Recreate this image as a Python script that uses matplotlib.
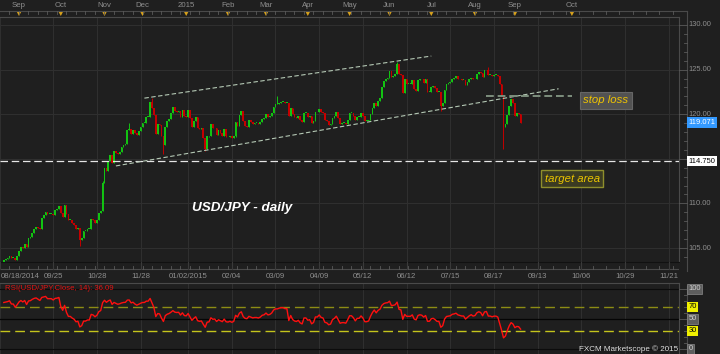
import matplotlib
matplotlib.use("Agg")
import matplotlib.pyplot as plt
import numpy as np
import pandas as pd
from matplotlib.patches import Polygon

plt.rcParams['font.family'] = ['Liberation Sans', 'DejaVu Sans']

W, H = 720, 354
BG = "#1f1f1f"
GRID = "#2f2f2f"
FRAME = "#4a4a4a"
TXT = "#8e8e8e"
UPC = "#12c412"
DNC = "#c40000"

# ---------------- data ----------------
first_day = "2014-08-20"
last_day = "2015-09-04"

# closes before the visible range (only used to seed the RSI)
warmup_closes = [101.4, 101.5, 101.5, 101.8, 101.8, 101.9, 102.1, 102.8, 102.8, 102.6,
                 102.6, 102.6, 102.1, 102.1, 102.0, 102.4, 102.3, 102.6, 102.4, 102.3,
                 102.6, 103.2]

closes = [
    103.7, 103.8, 103.9,                      # Aug 20-22 2014
    104.1, 103.9, 103.9, 103.7, 104.1,        # Aug 25-29
    104.7, 105.1, 105.0, 105.4, 105.1,        # Sep 1-5
    106.1, 106.2, 106.7, 107.1, 107.3,        # Sep 8-12
    107.2, 107.1, 108.4, 108.7, 109.0,        # Sep 15-19
    108.8, 108.8, 108.8, 108.7, 109.3,        # Sep 22-26
    109.4, 109.7, 108.9, 108.5, 109.8,        # Sep 29-Oct 3
    108.8, 108.1, 108.1, 107.8, 107.6,        # Oct 6-10
    107.1, 107.2, 105.9, 106.1, 106.9,        # Oct 13-17
    106.9, 107.1, 107.1, 108.2, 108.1,        # Oct 20-24
    107.8, 108.1, 108.9, 109.2, 112.3,        # Oct 27-31
    114.0, 113.6, 114.7, 115.4, 114.5,        # Nov 3-7
    115.9, 115.7, 115.5, 115.8, 116.3,        # Nov 10-14
    116.6, 116.7, 118.2, 118.3, 117.8,        # Nov 17-21
    118.2, 117.9, 117.7, 118.1, 118.6,        # Nov 24-28
    119.0, 119.0, 119.7, 119.7, 121.4,        # Dec 1-5
    120.7, 119.9, 117.8, 118.9, 118.8,        # Dec 8-12
    117.6, 116.5, 118.6, 119.2, 119.5,        # Dec 15-19
    120.1, 120.8, 120.4, 120.3, 120.4,        # Dec 22-26
    119.7, 120.5, 119.8, 119.7, 120.5,        # Dec 29-Jan 2
    119.6, 118.6, 119.2, 119.7, 118.5,        # Jan 5-9 2015
    118.3, 118.4, 117.3, 116.1, 117.5,        # Jan 12-16
    117.6, 118.9, 118.4, 118.5, 117.7,        # Jan 19-23
    118.2, 117.9, 117.6, 118.3, 117.5,        # Jan 26-30
    117.4, 117.6, 117.3, 117.5, 119.1,        # Feb 2-6
    118.7, 119.9, 120.4, 119.2, 118.7,        # Feb 9-13
    118.6, 119.3, 119.1, 118.9, 119.0,        # Feb 16-20
    119.0, 118.9, 119.1, 119.5, 119.6,        # Feb 23-27
    120.0, 119.7, 119.8, 120.1, 120.8,        # Mar 2-6
    121.1, 121.1, 121.3, 121.4, 121.4,        # Mar 9-13
    121.3, 121.3, 119.8, 120.7, 120.0,        # Mar 16-20
    119.7, 119.6, 119.8, 119.3, 119.1,        # Mar 23-27
    120.1, 120.1, 119.7, 119.8, 119.0,        # Mar 30-Apr 3
    119.2, 120.2, 120.2, 120.6, 120.2,        # Apr 6-10
    120.1, 119.3, 119.2, 118.8, 118.9,        # Apr 13-17
    119.6, 119.8, 120.2, 119.6, 118.9,        # Apr 20-24
    119.0, 119.0, 118.9, 119.4, 120.1,        # Apr 27-May 1
    120.1, 119.8, 119.3, 119.7, 119.7,        # May 4-8
    120.1, 119.8, 119.2, 119.2, 119.3,        # May 11-15
    120.0, 120.7, 121.3, 120.9, 121.5,        # May 18-22
    121.8, 123.0, 123.7, 124.0, 124.1,        # May 25-29
    124.8, 124.2, 124.3, 124.5, 125.6,        # Jun 1-5
    124.5, 124.4, 122.4, 123.9, 123.4,        # Jun 8-12
    123.4, 123.4, 123.8, 122.8, 122.6,        # Jun 15-19
    123.8, 124.0, 123.9, 123.5, 123.9,        # Jun 22-26
    122.5, 122.5, 123.1, 123.2, 122.9,        # Jun 29-Jul 3
    122.5, 122.5, 120.9, 121.2, 122.7,        # Jul 6-10
    123.4, 123.5, 123.6, 124.0, 124.1,        # Jul 13-17
    124.3, 124.0, 123.9, 123.8, 123.8,        # Jul 20-24
    123.3, 123.6, 123.9, 124.1, 123.9,        # Jul 27-31
    124.0, 124.5, 124.7, 124.6, 124.2,        # Aug 3-7
    124.9, 125.0, 124.4, 124.4, 124.3,        # Aug 10-14
    124.4, 124.4, 124.3, 123.4, 122.0,        # Aug 17-21
    118.6, 118.9, 119.9, 120.9, 121.7,        # Aug 24-28
    121.2, 119.8, 120.1, 120.0, 119.0,        # Aug 31-Sep 4
]

high_wicks = {"2014-10-31": 112.5, "2014-11-20": 118.98, "2014-12-08": 121.85,
              "2015-03-10": 122.03, "2015-06-05": 125.86, "2015-08-12": 125.28}
low_wicks = {"2014-10-15": 105.2, "2014-12-16": 115.57, "2015-01-15": 115.85,
             "2015-07-08": 120.4, "2015-08-24": 116.15}

channel_upper = (["2014-12-02", "2015-07-01"], [121.80, 126.52])
channel_lower = (["2014-11-11", "2015-09-24"], [114.20, 122.85])
stop_line = (["2015-08-11", "2015-10-01"], 122.05)
target_level = 114.75
last_price = 119.071

top_labels = ["Sep", "Oct", "Nov", "Dec", "2015", "Feb", "Mar", "Apr", "May",
              "Jun", "Jul", "Aug", "Sep", "Oct"]
top_dates = ["2014-09-01", "2014-10-01", "2014-11-01", "2014-12-01", "2015-01-01",
             "2015-02-01", "2015-03-01", "2015-04-01", "2015-05-01", "2015-06-01",
             "2015-07-01", "2015-08-01", "2015-09-01", "2015-10-01"]
bottom_labels = ["08/18/2014", "09/25", "10/28", "11/28", "01/02/2015", "02/04", "03/09",
                 "04/09", "05/12", "06/12", "07/15", "08/17", "09/13", "10/06", "10/29",
                 "11/21"]
bottom_dates = ["2014-08-18", "2014-09-25", "2014-10-28", "2014-11-28", "2015-01-02",
                "2015-02-04", "2015-03-09", "2015-04-09", "2015-05-12", "2015-06-12",
                "2015-07-15", "2015-08-17", "2015-09-13", "2015-10-06", "2015-10-29",
                "2015-11-21"]
price_grid = [105, 110, 115, 120, 125, 130]
price_labels = [105, 110, 120, 125, 130]   # 115.00 sits under the 114.750 marker
rsi_levels = [100, 70, 50, 30, 0]

# ---------------- derived ----------------
dates = pd.bdate_range(first_day, last_day)
closes = np.array(closes)
assert len(dates) == len(closes)
n = len(closes)
xs = np.arange(n)
opens = np.r_[warmup_closes[-1], closes[:-1]]
highs = np.maximum(opens, closes)
lows = np.minimum(opens, closes)


def pos(d):
    d = pd.Timestamp(d)
    if d < dates[0]:
        return (d - dates[0]).days
    if d <= dates[-1]:
        return int(dates.searchsorted(d))
    return n - 1 + (d - dates[-1]).days


for d, v in high_wicks.items():
    highs[pos(d)] = max(highs[pos(d)], v)
for d, v in low_wicks.items():
    lows[pos(d)] = min(lows[pos(d)], v)

# RSI(14), Wilder smoothing
allc = np.r_[warmup_closes, closes]
delta = np.diff(allc)
g = np.clip(delta, 0, None)
l = np.clip(-delta, 0, None)
ag = g[:14].mean()
al = l[:14].mean()
rsi_all = [np.nan] * 15
for k in range(14, len(delta)):
    ag = (ag * 13 + g[k]) / 14
    al = (al * 13 + l[k]) / 14
    rsi_all.append(100 - 100 / (1 + ag / al) if al > 0 else 100)
rsi = np.array(rsi_all)[len(warmup_closes):]

# ---------------- figure ----------------
fig = plt.figure(figsize=(W / 100, H / 100), dpi=100, facecolor=BG)


def px_axes(x0, y0, x1, y1, **kw):
    a = fig.add_axes([x0 / W, 1 - y1 / H, (x1 - x0) / W, (y1 - y0) / H], **kw)
    a.set_xticks([])
    a.set_yticks([])
    for s in a.spines.values():
        s.set_visible(False)
    a.set_facecolor("none")
    return a


Y130, PPU = 25.0, 8.92          # pixel row of 130.00 and pixels per yen
XL = (-2.0, (679 - 3.8) / 1.9)  # bar index range across the plot width

ax = px_axes(0, 17, 679, 262)
ax.set_facecolor(BG)
ax.set_xlim(*XL)
ax.set_ylim(130 - (262 - Y130) / PPU, 130 + (Y130 - 17) / PPU)

grid_x = [pos(d) for d in bottom_dates]
for gx in grid_x:
    ax.axvline(gx, color=GRID, lw=0.8, zorder=0)
for p in price_grid:
    ax.axhline(p, color=GRID, lw=0.8, zorder=0)
ax.spines["right"].set_visible(True)
ax.spines["right"].set_color(FRAME)
ax.spines["top"].set_visible(True)
ax.spines["top"].set_color(FRAME)
ax.spines["bottom"].set_visible(True)
ax.spines["bottom"].set_color("#111111")

cols = np.where(closes >= opens, UPC, DNC)
ax.vlines(xs, lows, highs, colors=cols, lw=0.7, zorder=3)
body_h = np.maximum(np.abs(closes - opens), 0.1)
ax.bar(xs, body_h, bottom=np.minimum(opens, closes), width=0.9, color=cols,
       linewidth=0, zorder=3)

# annotations
ax.axhline(target_level, color="#e6e6e6", lw=0.9, dashes=(6, 3), zorder=4)
for ds, ps in (channel_upper, channel_lower):
    ax.plot([pos(d) for d in ds], ps, color="#b5c9b5", lw=0.8, dashes=(4, 2.2), zorder=4)
ax.plot([pos(d) for d in stop_line[0]], [stop_line[1]] * 2, color="#7d8f7d", lw=1.4,
        dashes=(4, 2), zorder=4)

ax.text(125.4, 109.48, "USD/JPY - daily", color="white", fontsize=9.7,
        fontweight="bold", fontstyle="italic", ha="center", va="center", zorder=6)
ax.text(316.7, 121.54, "stop loss", color="#f0c400", fontsize=8.2, fontstyle="italic",
        ha="center", va="center", zorder=6,
        bbox=dict(boxstyle="square,pad=0.3", fc="#525252", ec="#666666", lw=0.8))
ax.text(299.3, 112.79, "target area", color="#eac400", fontsize=8.2, fontstyle="italic",
        ha="center", va="center", zorder=6,
        bbox=dict(boxstyle="square,pad=0.3", fc="#3b3b22", ec="#8e8e2c", lw=1.0))

# ---------------- top strip ----------------
axt = px_axes(0, 0, 679, 17, sharex=ax)
axt.set_ylim(17, 0)
axt.axhline(11, color=FRAME, lw=0.8)
mondays = pd.date_range("2014-08-25", "2015-11-30", freq="W-MON")
for wd in mondays:
    wx = pos(wd)
    if XL[0] < wx < XL[1]:
        axt.plot([wx, wx], [11, 13.5], color="#5a5a5a", lw=0.6)
for lab, d in zip(top_labels, top_dates):
    mx = pos(d)
    axt.add_patch(Polygon([[mx - 1.4, 11], [mx + 1.4, 11], [mx, 16]], closed=True,
                          fc="#d9a21b", ec="none"))
    axt.text(mx, 5.5, lab, color=TXT, fontsize=5.6, ha="center", va="center")

# ---------------- bottom strip ----------------
axb = px_axes(0, 262, 679, 283, sharex=ax)
axb.set_ylim(21, 0)
axb.axhline(6.5, color=FRAME, lw=0.8)
for wd in mondays:
    wx = pos(wd)
    if XL[0] < wx < XL[1]:
        axb.plot([wx, wx], [3.5, 6.5], color="#5a5a5a", lw=0.6)
for gx in grid_x:
    axb.plot([gx, gx], [0, 6.5], color="#3a3a3a", lw=0.8)
for i, (lab, gx) in enumerate(zip(bottom_labels, grid_x)):
    if i == 0:
        axb.text(XL[0] + 0.3, 14, lab, color=TXT, fontsize=5.6, ha="left", va="center")
    else:
        axb.text(gx, 14, lab, color=TXT, fontsize=5.6, ha="center", va="center")

# ---------------- RSI panel ----------------
axr = px_axes(0, 283, 679, 354, sharex=ax)
axr.set_ylim(-(354 - 349) / 0.6, (349 - 283) / 0.6)
axr.spines["top"].set_visible(True)
axr.spines["top"].set_color(FRAME)
axr.spines["right"].set_visible(True)
axr.spines["right"].set_color(FRAME)
for gx in grid_x:
    axr.axvline(gx, color=GRID, lw=0.8, zorder=0)
axr.axhline(100, color="#0c0c0c", lw=0.8)
axr.axhline(50, color="#050505", lw=0.9)
axr.axhline(0, color="#0c0c0c", lw=0.8)
axr.axhline(70, color="#8c8c14", lw=1.0, dashes=(7, 3.6))
axr.axhline(30, color="#c4c41c", lw=1.0, dashes=(7, 3.6))
axr.plot(xs, rsi, color="#ff1010", lw=1.0, zorder=5)
fig.text(5 / W, 1 - 289 / H, "RSI(USD/JPY.Close, 14): 36.09", color="#e01414",
         fontsize=5.6, ha="left", va="center")
fig.text(678 / W, 1 - 349 / H, "FXCM Marketscope \u00a9 2015", color="#e0e0e0",
         fontsize=5.8, ha="right", va="center")

# ---------------- right price scale ----------------
axp = px_axes(679, 0, 720, 262)
axp.set_xlim(0, 41)
axp.set_ylim(130 - (262 - Y130) / PPU, 130 + Y130 / PPU)
top_p = 130 + (Y130 - 11) / PPU
axp.plot([0, 8], [top_p, top_p], color=FRAME, lw=0.8, clip_on=False)
axp.plot([8, 8], [axp.get_ylim()[0] - 1, top_p], color=FRAME, lw=0.8, clip_on=False)
for p in range(104, 131):
    if p % 5 == 0:
        axp.plot([0, 8], [p, p], color="#5a5a5a", lw=0.6)
    else:
        axp.plot([4.5, 8], [p, p], color="#5a5a5a", lw=0.6)
for p in price_labels:
    axp.text(9.5, p, f"{p:.2f}", color=TXT, fontsize=5.4, ha="left", va="center")
axp.text(9.3, last_price, f"{last_price:.3f}", color="white", fontsize=5.4, ha="left",
         va="center", zorder=6,
         bbox=dict(boxstyle="square,pad=0.22", fc="#3399ff", ec="none"))
axp.text(9.3, target_level, f"{target_level:.3f}", color="black", fontsize=5.4,
         ha="left", va="center", zorder=6,
         bbox=dict(boxstyle="square,pad=0.22", fc="white", ec="none"))

# ---------------- right RSI scale ----------------
axq = px_axes(679, 283, 720, 354, sharey=axr)
axq.set_xlim(0, 41)
axq.plot([8, 8], [-10, 105], color=FRAME, lw=0.8, clip_on=False)
for v in range(0, 101, 10):
    axq.plot([4.5 if v % 50 else 0, 8], [v, v], color="#5a5a5a", lw=0.6)
for v in rsi_levels:
    yellow = v in (70, 30)
    axq.text(9.3, v, str(v), color="black" if yellow else "#d0d0d0", fontsize=5.4,
             ha="left", va="center",
             bbox=dict(boxstyle="square,pad=0.2", fc="#f0f000" if yellow else "#5e5e5e",
                       ec="#8a8a8a" if not yellow else "none", lw=0.5))

fig.savefig("out.png", dpi=100, facecolor=BG)
